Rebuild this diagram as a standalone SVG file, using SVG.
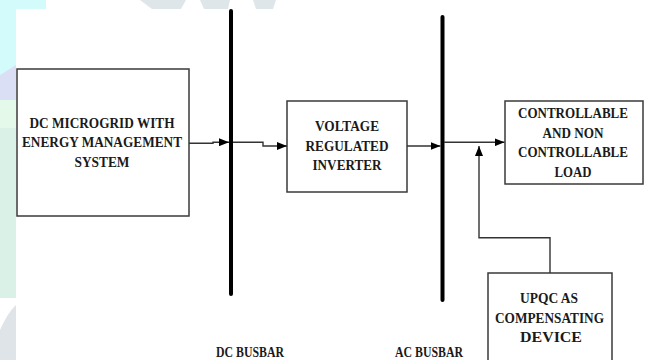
<svg xmlns="http://www.w3.org/2000/svg" width="647" height="360" viewBox="0 0 647 360">
<defs>
<style>
.box{fill:#fff;stroke:#3a3a3a;stroke-width:1.5}
.t{font-family:"Liberation Serif","Times New Roman",serif;font-weight:bold;font-size:15px;fill:#1a1a1a;text-anchor:middle}
.bus{stroke:#000;stroke-width:4;stroke-linecap:round}
.c{fill:none;stroke:#333;stroke-width:1.4}
</style>
<marker id="ah" markerWidth="10" markerHeight="8" refX="10" refY="4" orient="auto" markerUnits="userSpaceOnUse">
<path d="M0,0 L10,4 L0,8 Z" fill="#000"/>
</marker>
</defs>
<g id="background">
<rect x="0" y="0" width="647" height="360" fill="#fff"/>
<rect x="0" y="0" width="16" height="80" fill="#d4fbfc"/>
<rect x="16" y="0" width="30" height="9" fill="#d4fbfc"/>
<polygon points="0,75 16,65 16,100 0,100" fill="#dadff5"/>
<rect x="0" y="100" width="16" height="28" fill="#e4f9e9"/>
<rect x="0" y="128" width="16" height="170" fill="#d9f1e6"/>
<path d="M0,360 L0,330 Q8,312 16,305 L16,360 Z" fill="#dfe4e8"/>
<polygon points="140,0 186,0 181,9 152,9" fill="#dfe6ea"/>
<polygon points="200,0 230,0 228,9 204,9" fill="#dfe6ea"/>
<polygon points="253,0 276,0 273,9 256,9" fill="#dfe6ea"/>
</g>
<g id="busbars">
<line class="bus" x1="231" y1="11" x2="231" y2="294"/>
<line class="bus" x1="442.5" y1="17" x2="442.5" y2="300"/>
<text class="t" x="250" y="356.5" textLength="68" lengthAdjust="spacingAndGlyphs">DC BUSBAR</text>
<text class="t" x="429" y="356.5" textLength="68" lengthAdjust="spacingAndGlyphs">AC BUSBAR</text>
</g>
<g id="dc-microgrid">
<rect class="box" x="17" y="69" width="172" height="147"/>
<text class="t" x="102" y="128" textLength="145" lengthAdjust="spacingAndGlyphs">DC MICROGRID WITH</text>
<text class="t" x="102" y="147" textLength="160" lengthAdjust="spacingAndGlyphs">ENERGY MANAGEMENT</text>
<text class="t" x="102" y="166.5" textLength="55" lengthAdjust="spacingAndGlyphs">SYSTEM</text>
</g>
<g id="inverter">
<rect class="box" x="287" y="101" width="120" height="91"/>
<text class="t" x="347" y="131" textLength="64" lengthAdjust="spacingAndGlyphs">VOLTAGE</text>
<text class="t" x="347" y="151" textLength="83" lengthAdjust="spacingAndGlyphs">REGULATED</text>
<text class="t" x="347" y="170" textLength="69" lengthAdjust="spacingAndGlyphs">INVERTER</text>
</g>
<g id="load">
<rect class="box" x="505" y="101" width="138" height="83"/>
<text class="t" x="573" y="118" textLength="110" lengthAdjust="spacingAndGlyphs">CONTROLLABLE</text>
<text class="t" x="573" y="138" textLength="61" lengthAdjust="spacingAndGlyphs">AND NON</text>
<text class="t" x="573" y="157" textLength="110" lengthAdjust="spacingAndGlyphs">CONTROLLABLE</text>
<text class="t" x="573" y="177" textLength="37" lengthAdjust="spacingAndGlyphs">LOAD</text>
</g>
<g id="upqc">
<rect class="box" x="488" y="273" width="124" height="95"/>
<text class="t" x="549" y="303" textLength="58" lengthAdjust="spacingAndGlyphs">UPQC AS</text>
<text class="t" x="549.5" y="323" textLength="109" lengthAdjust="spacingAndGlyphs">COMPENSATING</text>
<text class="t" x="551" y="342" textLength="62" lengthAdjust="spacingAndGlyphs">DEVICE</text>
</g>
<g id="connectors">
<path class="c" d="M189,143.3 H213 V142.2 H229" marker-end="url(#ah)"/>
<path class="c" d="M233,142.2 H263 V146 H287" marker-end="url(#ah)"/>
<path class="c" d="M407,146 H440.5" marker-end="url(#ah)"/>
<path class="c" d="M444,142.3 H504.5" marker-end="url(#ah)"/>
<path class="c" d="M550,273 V237.7 H479 V146" marker-end="url(#ah)"/>
</g>
</svg>
